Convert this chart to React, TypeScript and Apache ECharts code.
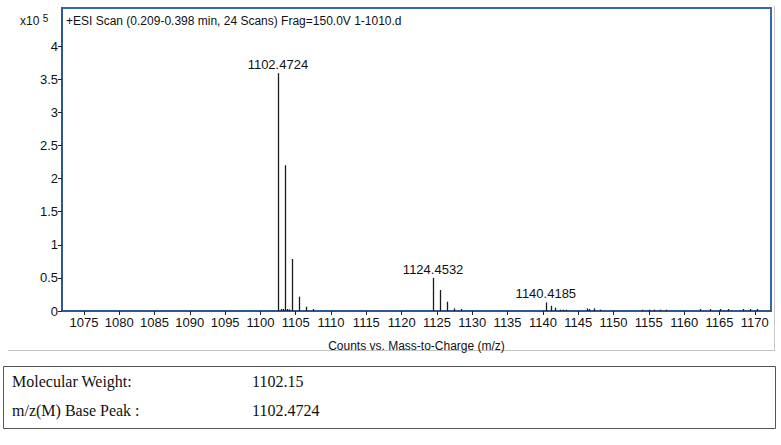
import React, { useEffect, useRef } from "react";
import * as echarts from "echarts";

// m/z of every centroid peak and its intensity (x10^5 counts)
const peakMz = [
  1102.47, 1102.9, 1103.2, 1103.47, 1103.8, 1104.1, 1104.47, 1105.48, 1106.48, 1107.45,
  1124.45, 1125.45, 1126.46, 1127.46, 1128.45,
  1140.42, 1141.15, 1141.76, 1142.38, 1142.8, 1143.27,
  1146.2, 1146.57, 1147.24, 1148.09,
  1154.1, 1155.0, 1155.8, 1156.6, 1157.5,
  1162.25, 1163.67, 1165.08, 1166.2,
  1168.3, 1169.3, 1170.3,
];
const peakIntensity = [
  3.59, 0.03, 0.03, 2.2, 0.03, 0.025, 0.785, 0.216, 0.065, 0.03,
  0.5, 0.317, 0.14, 0.04, 0.03,
  0.13, 0.08, 0.05, 0.02, 0.02, 0.02,
  0.04, 0.03, 0.04, 0.02,
  0.02, 0.02, 0.02, 0.02, 0.02,
  0.03, 0.03, 0.03, 0.03,
  0.03, 0.03, 0.03,
];
const labeledMz = [1102.4724, 1124.4532, 1140.4185];
const labeledIntensity = [3.59, 0.5, 0.13];
const labeledText = ["1102.4724", "1124.4532", "1140.4185"];

const xTicks = [
  1075, 1080, 1085, 1090, 1095, 1100, 1105, 1110, 1115, 1120, 1125, 1130, 1135, 1140, 1145,
  1150, 1155, 1160, 1165, 1170,
];
const yTicks = [0, 0.5, 1, 1.5, 2, 2.5, 3, 3.5, 4];

const titleText = "+ESI Scan (0.209-0.398 min, 24 Scans) Frag=150.0V 1-1010.d";
const xAxisTitle = "Counts vs. Mass-to-Charge (m/z)";
const tableLabels = ["Molecular Weight:", "m/z(M) Base Peak :"];
const tableValues = ["1102.15", "1102.4724"];

export default function App() {
  const ref = useRef<HTMLDivElement>(null);
  useEffect(() => {
    if (!ref.current) return;
    const chart = echarts.init(ref.current, undefined, { renderer: "svg" });
    const sans = "'Liberation Sans', Arial, sans-serif";
    const serif = "'Liberation Serif', 'Times New Roman', serif";
    const peaks = peakMz.map((m, i) => [m, peakIntensity[i]]);
    const labels = labeledMz.map((m, i) => [m, labeledIntensity[i], labeledText[i]]);
    chart.setOption({
      animation: false,
      backgroundColor: "#ffffff",
      grid: {
        left: 62,
        right: 10,
        top: 8,
        bottom: 134,
        show: true,
        borderColor: "#3767b4",
        borderWidth: 2,
        backgroundColor: "#ffffff",
      },
      xAxis: {
        type: "value",
        min: 1071.9,
        max: 1172.3,
        name: xAxisTitle,
        nameLocation: "middle",
        nameGap: 29,
        nameTextStyle: { fontFamily: sans, fontSize: 12, color: "#111" },
        axisLine: { show: true, lineStyle: { color: "#2c5897", width: 2 } },
        axisTick: { show: true, customValues: xTicks, length: 4, lineStyle: { color: "#222" } },
        axisLabel: {
          customValues: xTicks,
          fontFamily: sans,
          fontSize: 13,
          color: "#111",
          margin: 5,
          formatter: (v: number) => String(v),
        },
        splitLine: { show: false },
      },
      yAxis: {
        type: "value",
        min: 0,
        max: 4.574,
        axisLine: { show: true, lineStyle: { color: "#2c5897", width: 2 } },
        axisTick: { show: true, customValues: yTicks, length: 4, lineStyle: { color: "#222" } },
        axisLabel: {
          customValues: yTicks,
          fontFamily: sans,
          fontSize: 13,
          color: "#111",
          margin: 4,
          formatter: (v: number) => String(v),
        },
        splitLine: { show: false },
      },
      series: [
        {
          type: "custom",
          clip: true,
          encode: { x: 0, y: 1 },
          data: peaks,
          renderItem: (params: any, api: any) => {
            const top = api.coord([api.value(0), api.value(1)]);
            const base = api.coord([api.value(0), 0]);
            const x = Math.round(top[0]) + 0.5;
            return {
              type: "line",
              shape: { x1: x, y1: top[1], x2: x, y2: base[1] },
              style: { stroke: "#1c1c1c", lineWidth: 1.3 },
            };
          },
        },
        {
          type: "custom",
          encode: { x: 0, y: 1 },
          data: labels,
          renderItem: (params: any, api: any) => {
            const p = api.coord([api.value(0), api.value(1)]);
            return {
              type: "text",
              x: p[0],
              y: p[1] - 2,
              style: {
                text: labeledText[params.dataIndex],
                fontFamily: sans,
                fontSize: 13,
                fill: "#111",
                align: "center",
                verticalAlign: "bottom",
              },
            };
          },
        },
      ],
      graphic: [
        {
          type: "text",
          left: 66,
          top: 15,
          style: { text: titleText, fontFamily: sans, fontSize: 12, fill: "#111" },
        },
        {
          type: "text",
          left: 20,
          top: 13,
          style: {
            text: "x10 {s|5}",
            fontFamily: sans,
            fontSize: 12,
            fill: "#111",
            rich: { s: { fontSize: 10, fontFamily: sans, verticalAlign: "top", padding: [0, 0, 6, 0] } },
          },
        },
        {
          type: "line",
          shape: { x1: 8, y1: 350.5, x2: 775, y2: 350.5 },
          style: { stroke: "#c4c4c4", lineWidth: 1 },
        },
        {
          type: "line",
          shape: { x1: 774.5, y1: 6, x2: 774.5, y2: 350 },
          style: { stroke: "#c8c8c8", lineWidth: 1 },
        },
        {
          type: "rect",
          shape: { x: 3.5, y: 366.5, width: 772, height: 62 },
          style: { fill: "#ffffff", stroke: "#555", lineWidth: 1 },
        },
        ...tableLabels.map((t, i) => ({
          type: "text",
          left: 12,
          top: 373 + i * 29,
          style: { text: t, fontFamily: serif, fontSize: 16, fill: "#111" },
        })),
        ...tableValues.map((t, i) => ({
          type: "text",
          left: 252,
          top: 373 + i * 29,
          style: { text: t, fontFamily: serif, fontSize: 16, fill: "#111" },
        })),
      ],
    });
    return () => chart.dispose();
  }, []);
  return (
    <div
      ref={ref}
      style={{ position: "fixed", left: 0, top: 0, width: 781, height: 445, background: "#fff" }}
    />
  );
}
